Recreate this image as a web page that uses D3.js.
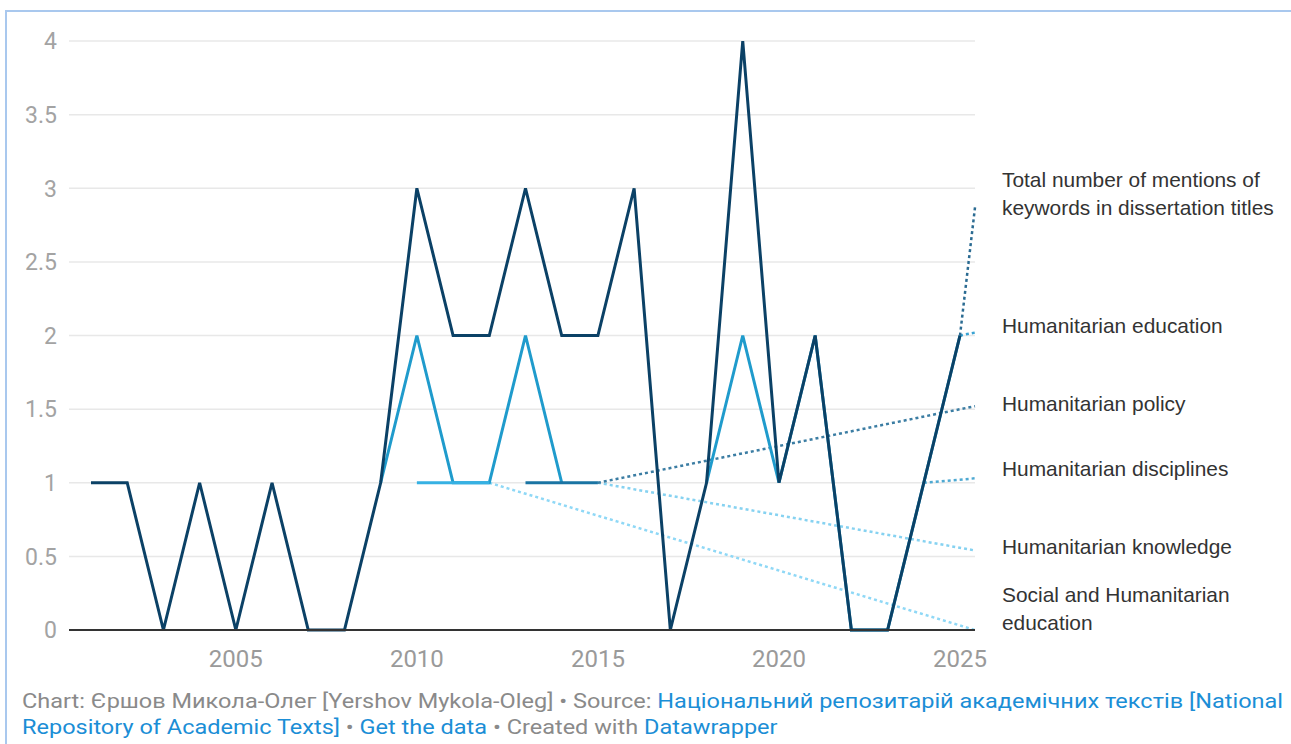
<!DOCTYPE html>
<html>
<head>
<meta charset="utf-8">
<script src="https://cdn.jsdelivr.net/npm/d3@7"></script>
<style>
    body { margin: 0; background: #fff; }
    svg { display: block; }
</style>
</head>
<body>
<svg id="chart" width="1291" height="744"></svg>
<script>
// values
const years = [2001, 2002, 2003, 2004, 2005, 2006, 2007, 2008, 2009, 2010, 2011, 2012, 2013,
    2014, 2015, 2016, 2017, 2018, 2019, 2020, 2021, 2022, 2023, 2024, 2025];
const totalMentions = [1, 1, 0, 1, 0, 1, 0, 0, 1, 3, 2, 2, 3, 2, 2, 3, 0, 1, 4, 1, 2, 0, 0, 1, 2];
const humEducation = [null, null, null, null, null, null, null, null, 1, 2, 1, 1, 2, 1, null, null, null, 1, 2, 1, 2, 0, 0, 1, 2];
const humPolicy = [null, null, null, null, null, null, null, null, null, null, null, null, 1, 1, 1, null, null, null, null, null, null, null, null, null, null];
const humDisciplines = [null, null, null, null, null, null, null, null, null, null, null, null, null, null, null, null, null, null, null, null, null, null, null, 1, null];
const humKnowledge = [null, null, null, null, null, null, null, null, null, null, null, null, null, null, 1, null, null, null, null, null, null, null, null, null, null];
const socialHumEducation = [null, null, null, null, null, null, null, null, null, 1, 1, 1, null, null, null, null, null, null, null, null, null, null, null, null, null];

const seriesLabels = [
    ["Total number of mentions of", "keywords in dissertation titles"],
    ["Humanitarian education"],
    ["Humanitarian policy"],
    ["Humanitarian disciplines"],
    ["Humanitarian knowledge"],
    ["Social and Humanitarian", "education"]
];
// where the dotted connectors end and where the label blocks sit (in y units)
const connectorEnds = [2.87, 2.02, 1.52, 1.03, 0.54, 0];
const labelCenters = [2.96, 2.07, 1.535, 1.094, 0.564, 0.143];

const yTicks = [0, 0.5, 1, 1.5, 2, 2.5, 3, 3.5, 4];
const xTicks = [2005, 2010, 2015, 2020, 2025];

const svg = d3.select("#chart");
const W = 1291, H = 744;

// card border like the screenshot
svg.append("path")
    .attr("d", "M6," + H + "V11H" + W)
    .attr("fill", "none")
    .attr("stroke", "#a9c8ee")
    .attr("stroke-width", 2);

const x = d3.scaleLinear().domain([2001, 2025]).range([91, 960]);
const y = d3.scaleLinear().domain([0, 4]).range([630, 41]);
const gridStart = 69, gridEnd = 975;

// grid
svg.append("g").selectAll("line")
    .data(yTicks.filter(d => d !== 0))
    .join("line")
    .attr("x1", gridStart).attr("x2", gridEnd)
    .attr("y1", d => y(d)).attr("y2", d => y(d))
    .attr("stroke", "#e8e8e8")
    .attr("stroke-width", 1.5);

svg.append("g").selectAll("text")
    .data(yTicks)
    .join("text")
    .attr("x", 57)
    .attr("y", d => y(d))
    .attr("dy", "0.36em")
    .attr("text-anchor", "end")
    .attr("font-family", "Roboto")
    .attr("font-size", 23)
    .attr("fill", "#a3a3a3")
    .text(d => d3.format("~g")(d));

svg.append("g").selectAll("text")
    .data(xTicks)
    .join("text")
    .attr("x", d => x(d))
    .attr("y", 658)
    .attr("dy", "0.36em")
    .attr("text-anchor", "middle")
    .attr("font-family", "Roboto")
    .attr("font-size", 24)
    .attr("fill", "#9a9a9a")
    .text(d => d);

// series, drawn bottom to top
const series = [
    {values: humEducation, color: "#1f9bcc", dot: "#3aa3d3", idx: 1},
    {values: humKnowledge, color: "#6cc8ef", dot: "#86d2f1", idx: 4},
    {values: humPolicy, color: "#1a74a3", dot: "#3b7da3", idx: 2},
    {values: socialHumEducation, color: "#36b1e3", dot: "#8fd8f6", idx: 5},
    {values: humDisciplines, color: "#3aa0d0", dot: "#4ea9d2", idx: 3},
    {values: totalMentions, color: "#0b4166", dot: "#2b6b92", idx: 0}
];

const line = d3.line()
    .defined(d => d[1] !== null)
    .x(d => x(d[0]))
    .y(d => y(d[1]));

let connectors = svg.append("g");
let lines = svg.append("g");

series.forEach(function (s) {
    let pts = years.map((yr, i) => [yr, s.values[i]]);
    lines.append("path")
        .datum(pts)
        .attr("d", line)
        .attr("fill", "none")
        .attr("stroke", s.color)
        .attr("stroke-width", 3)
        .attr("stroke-linejoin", "miter");

    // dotted connector from last value to its label
    let last = pts.filter(d => d[1] !== null).pop();
    connectors.append("line")
        .attr("x1", x(last[0])).attr("y1", y(last[1]))
        .attr("x2", gridEnd).attr("y2", y(connectorEnds[s.idx]))
        .attr("stroke", s.dot)
        .attr("stroke-width", 2.5)
        .attr("stroke-dasharray", "3,3");
});

// zero baseline
svg.append("line")
    .attr("x1", gridStart).attr("x2", gridEnd)
    .attr("y1", y(0)).attr("y2", y(0))
    .attr("stroke", "#333")
    .attr("stroke-width", 2);

// right side labels
let labelG = svg.append("g")
    .attr("font-family", "Liberation Sans, Arial")
    .attr("font-size", 20.9)
    .attr("fill", "#333");

seriesLabels.forEach(function (lbl, i) {
    let cy = y(labelCenters[i]) - (lbl.length - 1) * 14;
    let t = labelG.append("text")
        .attr("x", 1002)
        .attr("y", cy);
    lbl.forEach(function (ln, j) {
        t.append("tspan")
            .attr("x", 1002)
            .attr("dy", j === 0 ? "0.35em" : 28)
            .text(ln);
    });
});

// footer (the screenshot's text is a bit wider than plain Roboto)
const gray = "#8a8a8a", blue = "#1b8ed6";
const footerLines = [
    [["Chart: Єршов Микола-Олег [Yershov Mykola-Oleg] • Source: ", gray], ["Національний репозитарій академічних текстів [National", blue]],
    [["Repository of Academic Texts]", blue], [" • ", gray], ["Get the data", blue], [" • Created with ", gray], ["Datawrapper", blue]]
];
footerLines.forEach(function (parts, i) {
    let t = svg.append("text")
        .attr("transform", "translate(22," + (700 + i * 26) + ") scale(1.12,1)")
        .attr("dy", "0.36em")
        .attr("font-family", "Roboto")
        .attr("font-size", 21);
    parts.forEach(function (p) {
        t.append("tspan").attr("fill", p[1]).text(p[0]);
    });
});
</script>
</body>
</html>
